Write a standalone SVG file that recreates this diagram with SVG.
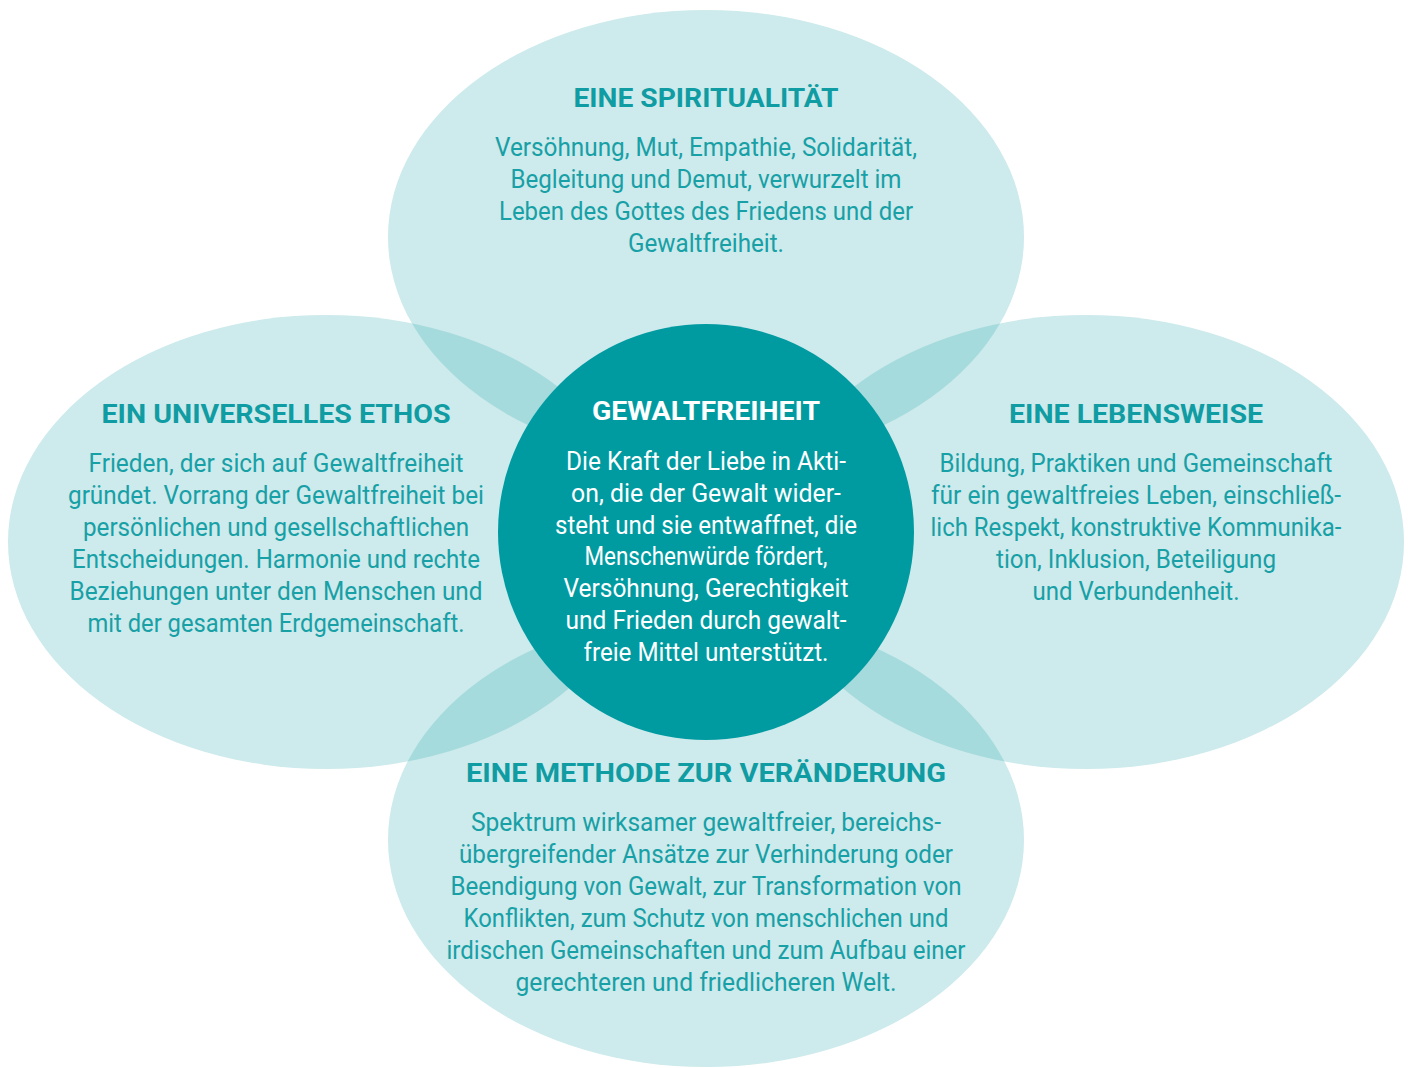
<svg xmlns="http://www.w3.org/2000/svg" width="1408" height="1068" viewBox="0 0 1408 1068">
<style>
.ell{fill:#cdeaec}
.lens{fill:#a6dbdd}
.ttl{font-family:Roboto,"Liberation Sans",sans-serif;font-weight:700;font-size:25px;fill:#0f9ca2;text-anchor:middle}
.bd{font-family:Roboto,"Liberation Sans",sans-serif;font-size:25px;fill:#17a0a6;text-anchor:middle}
.wt{fill:#ffffff}
</style>
<defs>
<clipPath id="cTop"><ellipse cx="706" cy="237" rx="318" ry="227"/></clipPath>
<clipPath id="cBot"><ellipse cx="706" cy="840" rx="318" ry="227"/></clipPath>
</defs>
<rect width="1408" height="1068" fill="#ffffff"/>
<g id="spiritualitaet">
<ellipse class="ell" cx="706" cy="237" rx="318" ry="227"/>
<text class="ttl" x="706" y="107" textLength="265" lengthAdjust="spacingAndGlyphs">EINE SPIRITUALITÄT</text>
<text class="bd" x="706" y="156" textLength="422" lengthAdjust="spacingAndGlyphs">Versöhnung, Mut, Empathie, Solidarität,</text>
<text class="bd" x="706" y="188" textLength="391" lengthAdjust="spacingAndGlyphs">Begleitung und Demut, verwurzelt im</text>
<text class="bd" x="706" y="220" textLength="414" lengthAdjust="spacingAndGlyphs">Leben des Gottes des Friedens und der</text>
<text class="bd" x="706" y="252" textLength="156" lengthAdjust="spacingAndGlyphs">Gewaltfreiheit.</text>
</g>
<g id="ethos">
<ellipse class="ell" cx="326" cy="542" rx="318" ry="227"/>
<text class="ttl" x="276" y="423" textLength="349" lengthAdjust="spacingAndGlyphs">EIN UNIVERSELLES ETHOS</text>
<text class="bd" x="276" y="472" textLength="375" lengthAdjust="spacingAndGlyphs">Frieden, der sich auf Gewaltfreiheit</text>
<text class="bd" x="276" y="504" textLength="416" lengthAdjust="spacingAndGlyphs">gründet. Vorrang der Gewaltfreiheit bei</text>
<text class="bd" x="276" y="536" textLength="386" lengthAdjust="spacingAndGlyphs">persönlichen und gesellschaftlichen</text>
<text class="bd" x="276" y="568" textLength="408" lengthAdjust="spacingAndGlyphs">Entscheidungen. Harmonie und rechte</text>
<text class="bd" x="276" y="600" textLength="413" lengthAdjust="spacingAndGlyphs">Beziehungen unter den Menschen und</text>
<text class="bd" x="276" y="632" textLength="377" lengthAdjust="spacingAndGlyphs">mit der gesamten Erdgemeinschaft.</text>
</g>
<g id="lebensweise">
<ellipse class="ell" cx="1086" cy="542" rx="318" ry="227"/>
<text class="ttl" x="1136" y="423" textLength="254" lengthAdjust="spacingAndGlyphs">EINE LEBENSWEISE</text>
<text class="bd" x="1136" y="472" textLength="393" lengthAdjust="spacingAndGlyphs">Bildung, Praktiken und Gemeinschaft</text>
<text class="bd" x="1136" y="504" textLength="410" lengthAdjust="spacingAndGlyphs">für ein gewaltfreies Leben, einschließ-</text>
<text class="bd" x="1136" y="536" textLength="411" lengthAdjust="spacingAndGlyphs">lich Respekt, konstruktive Kommunika-</text>
<text class="bd" x="1136" y="568" textLength="280" lengthAdjust="spacingAndGlyphs">tion, Inklusion, Beteiligung</text>
<text class="bd" x="1136" y="600" textLength="207" lengthAdjust="spacingAndGlyphs">und Verbundenheit.</text>
</g>
<g id="methode">
<ellipse class="ell" cx="706" cy="840" rx="318" ry="227"/>
<text class="ttl" x="706" y="782" textLength="480" lengthAdjust="spacingAndGlyphs">EINE METHODE ZUR VERÄNDERUNG</text>
<text class="bd" x="706" y="831" textLength="470" lengthAdjust="spacingAndGlyphs">Spektrum wirksamer gewaltfreier, bereichs-</text>
<text class="bd" x="706" y="863" textLength="494" lengthAdjust="spacingAndGlyphs">übergreifender Ansätze zur Verhinderung oder</text>
<text class="bd" x="706" y="895" textLength="511" lengthAdjust="spacingAndGlyphs">Beendigung von Gewalt, zur Transformation von</text>
<text class="bd" x="706" y="927" textLength="485" lengthAdjust="spacingAndGlyphs">Konflikten, zum Schutz von menschlichen und</text>
<text class="bd" x="706" y="959" textLength="519" lengthAdjust="spacingAndGlyphs">irdischen Gemeinschaften und zum Aufbau einer</text>
<text class="bd" x="706" y="991" textLength="381" lengthAdjust="spacingAndGlyphs">gerechteren und friedlicheren Welt.</text>
</g>
<g id="overlaps">
<ellipse class="lens" clip-path="url(#cTop)" cx="326" cy="542" rx="318" ry="227"/>
<ellipse class="lens" clip-path="url(#cTop)" cx="1086" cy="542" rx="318" ry="227"/>
<ellipse class="lens" clip-path="url(#cBot)" cx="326" cy="542" rx="318" ry="227"/>
<ellipse class="lens" clip-path="url(#cBot)" cx="1086" cy="542" rx="318" ry="227"/>
</g>
<g id="gewaltfreiheit">
<circle cx="706" cy="532" r="208" fill="#009ba1"/>
<text class="ttl wt" x="706" y="420" textLength="228" lengthAdjust="spacingAndGlyphs">GEWALTFREIHEIT</text>
<text class="bd wt" x="706" y="470" textLength="280" lengthAdjust="spacingAndGlyphs">Die Kraft der Liebe in Akti-</text>
<text class="bd wt" x="706" y="502" textLength="270" lengthAdjust="spacingAndGlyphs">on, die der Gewalt wider-</text>
<text class="bd wt" x="706" y="534" textLength="302" lengthAdjust="spacingAndGlyphs">steht und sie entwaffnet, die</text>
<text class="bd wt" x="706" y="565" textLength="243" lengthAdjust="spacingAndGlyphs">Menschenwürde fördert,</text>
<text class="bd wt" x="706" y="597" textLength="285" lengthAdjust="spacingAndGlyphs">Versöhnung, Gerechtigkeit</text>
<text class="bd wt" x="706" y="629" textLength="281" lengthAdjust="spacingAndGlyphs">und Frieden durch gewalt-</text>
<text class="bd wt" x="706" y="661" textLength="245" lengthAdjust="spacingAndGlyphs">freie Mittel unterstützt.</text>
</g>
</svg>
